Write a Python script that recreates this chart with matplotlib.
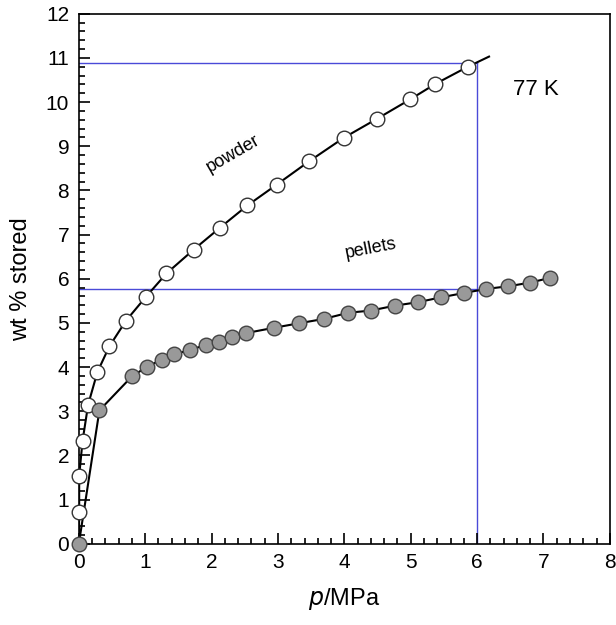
import matplotlib.pyplot as plt
from matplotlib.ticker import MultipleLocator

plt.rcParams['font.family'] = ['Liberation Sans', 'DejaVu Sans']

# powder (open circles)
powder_p = [0.005, 0.005, 0.056, 0.14, 0.28, 0.46, 0.71, 1.01, 1.32, 1.73,
            2.13, 2.54, 2.98, 3.47, 3.99, 4.49, 4.99, 5.37, 5.86]
powder_wt = [0.72, 1.54, 2.33, 3.15, 3.89, 4.47, 5.05, 5.59, 6.12, 6.66,
             7.16, 7.66, 8.13, 8.66, 9.19, 9.62, 10.06, 10.41, 10.80]

# pellets (filled circles)
pellet_p = [0.0, 0.31, 0.80, 1.03, 1.25, 1.44, 1.68, 1.91, 2.11, 2.31, 2.52,
            2.94, 3.31, 3.69, 4.06, 4.40, 4.76, 5.11, 5.46, 5.81, 6.14,
            6.47, 6.79, 7.10]
pellet_wt = [0.0, 3.02, 3.79, 4.01, 4.17, 4.29, 4.39, 4.50, 4.57, 4.69, 4.77,
             4.89, 4.99, 5.09, 5.23, 5.28, 5.39, 5.47, 5.58, 5.68, 5.77,
             5.83, 5.91, 6.02]

# fitted curve end points (start at origin, powder fit runs a bit past data)
powder_fit_start = (0.0, 0.0)
powder_fit_end = (6.18, 11.03)

# read-off guide lines at 6 MPa
guide_p = 6.0
guide_powder = 10.88
guide_pellet = 5.76

fig = plt.figure(figsize=(6.16, 6.25), dpi=100)
ax = fig.add_axes([0.128, 0.13, 0.862, 0.848])

blue = '#4a4ad8'
ax.plot([0, guide_p], [guide_powder, guide_powder], color=blue, lw=1, zorder=1)
ax.plot([0, guide_p], [guide_pellet, guide_pellet], color=blue, lw=1, zorder=1)
ax.plot([guide_p, guide_p], [0, guide_powder], color=blue, lw=1, zorder=1)

fit_p = [powder_fit_start[0]] + powder_p + [powder_fit_end[0]]
fit_wt = [powder_fit_start[1]] + powder_wt + [powder_fit_end[1]]
ax.plot(fit_p, fit_wt, color='black', lw=1.5, zorder=2)
ax.plot(pellet_p, pellet_wt, color='black', lw=1.5, zorder=2)

ax.plot(powder_p, powder_wt, 'o', ms=10.5, mfc='white', mec='#333333',
        mew=1, zorder=3, clip_on=False)
ax.plot(pellet_p, pellet_wt, 'o', ms=10.5, mfc='#999999', mec='#444444',
        mew=1, zorder=3, clip_on=False)

ax.text(2.33, 8.83, 'powder', fontsize=13, rotation=30,
        ha='center', va='center')
ax.text(4.4, 6.69, 'pellets', fontsize=13, rotation=11,
        ha='center', va='center')
ax.text(6.89, 10.28, '77 K', fontsize=16, ha='center', va='center')

ax.set_xlim(0, 8)
ax.set_ylim(0, 12)
ax.xaxis.set_major_locator(MultipleLocator(1))
ax.xaxis.set_minor_locator(MultipleLocator(0.2))
ax.yaxis.set_major_locator(MultipleLocator(1))
ax.yaxis.set_minor_locator(MultipleLocator(0.2))
ax.tick_params(which='both', direction='in', top=False, right=False,
               labelsize=15, width=1.2)
ax.tick_params(which='major', length=8, pad=7)
ax.tick_params(which='minor', length=4)
for s in ax.spines.values():
    s.set_linewidth(1.2)

ax.set_xlabel(r'$\it{p}$/MPa', fontsize=17, labelpad=10)
ax.set_ylabel('wt % stored', fontsize=17, labelpad=10)

fig.savefig('out.png', dpi=100)
